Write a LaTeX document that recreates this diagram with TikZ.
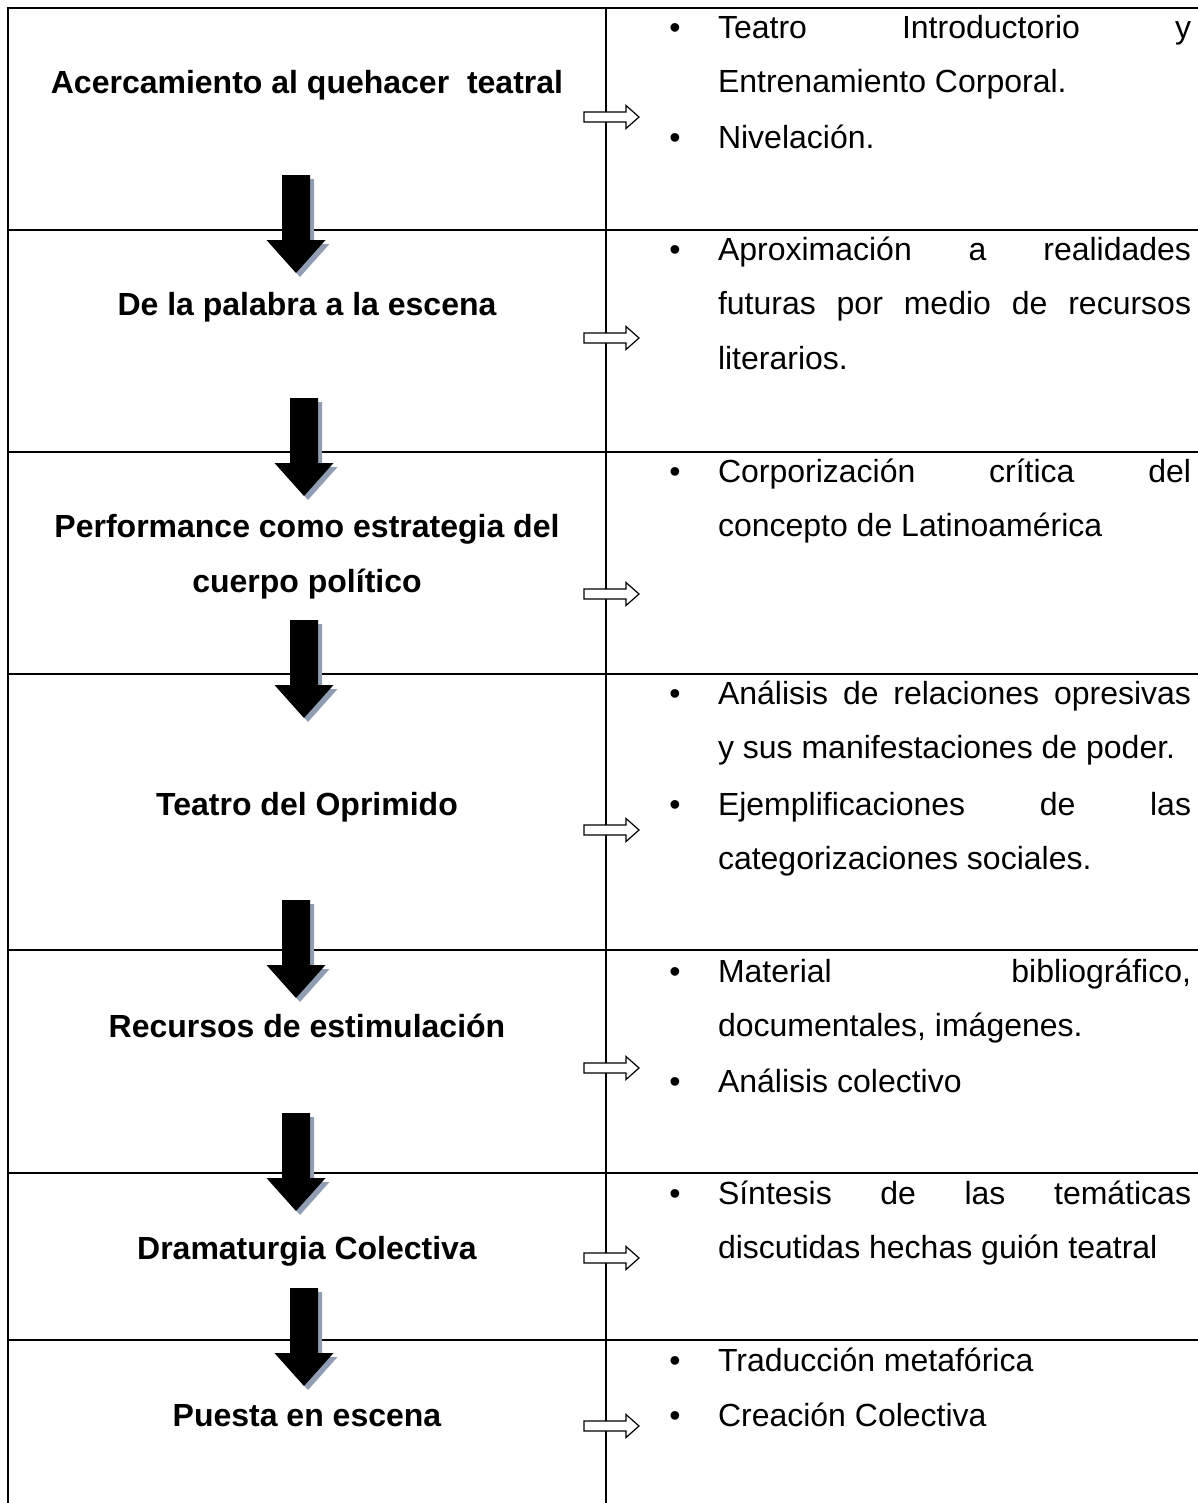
\documentclass[tikz,border=0pt]{standalone}
\usepackage{fontspec}
\setmainfont{Liberation Sans}
\usetikzlibrary{positioning}
\definecolor{shadowgray}{RGB}{145,157,178}
\hyphenpenalty=10000
\tolerance=10000

\begin{document}
\begin{tikzpicture}[x=0.375pt, y=-0.375pt, line width=0.75pt,
title/.style ={font=\fontsize{12}{20.6}\selectfont\bfseries, align=center, anchor=base, inner sep=0pt},
items/.style ={font=\fontsize{12}{20.6}\selectfont, text width=177.4pt, align=justify, anchor=base west, inner sep=0pt},
dot/.style ={font=\fontsize{12}{20.6}\selectfont, anchor=base, inner sep=0pt},
downarrow/.pic ={
  \fill[shadowgray, shift={(4,4)}] (-14,0) -- (14,0) -- (14,65) -- (29.5,65) -- (0,98) -- (-29.5,65) -- (-14,65) -- cycle;
  \fill[black] (-14,0) -- (14,0) -- (14,65) -- (29.5,65) -- (0,98) -- (-29.5,65) -- (-14,65) -- cycle;},
sidearrow/.pic ={
  \draw[fill=white, line width=0.45pt] (0,-5) -- (42,-5) -- (42,-11.5) -- (55,0) -- (42,11.5) -- (42,5) -- (0,5) -- cycle;}]
\useasboundingbox (0,0) rectangle (1198,1503);

% table lines
\draw (8,1503) -- (8,8) -- (1198,8);
\foreach \y in {230,452,674,950,1173,1340}
  \draw (8,\y) -- (1198,\y);
\draw (606,8) -- (606,1503);

% stages
\node[title] (acerca) at (307,93) {Acercamiento al quehacer\ \ teatral};
\node[title] (palabra) at (307,315) {De la palabra a la escena};
\node[title] (perform) at (307,592) {Performance como estrategia del\\cuerpo político};
\node[title] (oprimido) at (307,815) {Teatro del Oprimido};
\node[title] (recursos) at (307,1037) {Recursos de estimulación};
\node[title] (drama) at (307,1259) {Dramaturgia Colectiva};
\node[title] (puesta) at (307,1426) {Puesta en escena};

% contents
\node[items] (acerca-a) at (717,38) {Teatro Introductorio y\linebreak Entrenamiento Corporal.};
\node[items] (acerca-b) at (717,148) {Nivelación.};
\node[items] (palabra-a) at (717,260) {Aproximación a realidades\linebreak futuras por medio de recursos\linebreak literarios.};
\node[items] (perform-a) at (717,482) {Corporización crítica del\linebreak concepto de Latinoamérica};
\node[items] (oprimido-a) at (717,704) {Análisis de relaciones opresivas\linebreak y sus manifestaciones de poder.};
\node[items] (oprimido-b) at (717,815) {Ejemplificaciones de las\linebreak categorizaciones sociales.};
\node[items] (recursos-a) at (717,982) {Material bibliográfico,\linebreak documentales, imágenes.};
\node[items] (recursos-b) at (717,1092) {Análisis colectivo};
\node[items] (drama-a) at (717,1204) {Síntesis de las temáticas\linebreak discutidas hechas guión teatral};
\node[items] (puesta-a) at (717,1371) {Traducción metafórica};
\node[items] (puesta-b) at (717,1426) {Creación Colectiva};

% bullets
\foreach \y in {38,148,260,482,704,815,982,1092,1204,1371,1426}
  \node[dot] at (675,\y) {\textbullet};

% arrows
\foreach \x/\y in {296/175, 304/398, 304/620, 296/900, 296/1113, 304/1288}
  \pic at (\x,\y) {downarrow};
\foreach \y in {117,338,594,830,1068,1258,1426}
  \pic at (584,\y) {sidearrow};
\end{tikzpicture}
\end{document}
